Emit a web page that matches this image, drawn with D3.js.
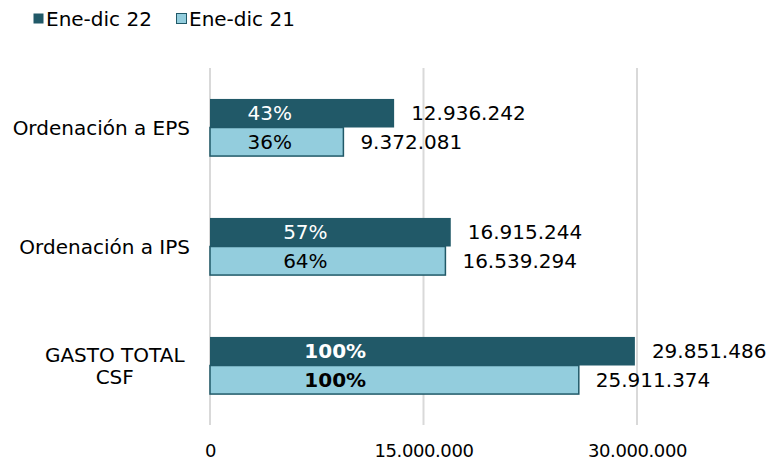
<!DOCTYPE html>
<html>
<head>
<meta charset="utf-8">
<script src="https://cdn.jsdelivr.net/npm/d3@7"></script>
<style>
  body { margin: 0; background: #fff; }
  svg { display: block; font-family: "DejaVu Sans", Verdana, sans-serif; }
</style>
</head>
<body>
<div id="vue"></div>
<script>
var width = 772;
var height = 461;

// donnees
var categories = ["Ordenación a EPS", "Ordenación a IPS", "GASTO TOTAL CSF"];
var seriesNames = ["Ene-dic 22", "Ene-dic 21"];
var values22 = [12936242, 16915244, 29851486];
var values21 = [9372081, 16539294, 25911374];
var pct22 = ["43%", "57%", "100%"];
var pct21 = ["36%", "64%", "100%"];
var tickValues = [0, 15000000, 30000000];

var colors = ["#215968", "#93CDDD"];

var locale = d3.formatLocale({ decimal: ",", thousands: ".", grouping: [3], currency: ["", ""] });
var fmt = locale.format(",d");

var svg = d3.select("#vue").append("svg")
  .attr("width", width)
  .attr("height", height);

var x = d3.scaleLinear().domain([0, 30000000]).range([210, 637]);
var y = d3.scaleBand().domain(categories).range([68, 425]).paddingInner(0.52).paddingOuter(0.26);
var y1 = d3.scaleBand().domain(seriesNames).range([0, y.bandwidth()]);

// grille verticale
svg.append("g").selectAll("line")
  .data(tickValues)
  .enter().append("line")
  .attr("x1", function (d) { return x(d); })
  .attr("x2", function (d) { return x(d); })
  .attr("y1", 68)
  .attr("y2", 425)
  .attr("stroke", "#D9D9D9")
  .attr("stroke-width", 2);

// axe x (etiquettes seulement)
var xAxis = d3.axisBottom(x).tickValues(tickValues).tickSize(0).tickPadding(0)
  .tickFormat(function (d) { return fmt(d); });
var gx = svg.append("g").attr("transform", "translate(0,451)").call(xAxis);
gx.select(".domain").remove();
gx.selectAll("text")
  .attr("font-size", "18px")
  .attr("font-family", "DejaVu Sans, Verdana, sans-serif")
  .attr("fill", "#000")
  .attr("letter-spacing", "-0.4px")
  .attr("dy", "0.36em")
  .attr("y", 0);

// barres
var rows = categories.map(function (c, i) {
  return { cat: c, v: [values22[i], values21[i]], p: [pct22[i], pct21[i]] };
});

var groups = svg.append("g").selectAll("g")
  .data(rows)
  .enter().append("g")
  .attr("transform", function (d) { return "translate(0," + y(d.cat) + ")"; });

groups.selectAll("rect")
  .data(function (d) { return d.v.map(function (v, j) { return { s: seriesNames[j], v: v, j: j }; }); })
  .enter().append("rect")
  .attr("x", x(0))
  .attr("y", function (d) { return y1(d.s); })
  .attr("width", function (d) { return x(d.v) - x(0); })
  .attr("height", y1.bandwidth())
  .attr("fill", function (d) { return colors[d.j]; })
  .attr("stroke", function (d) { return d.j === 1 ? "#215968" : "none"; })
  .attr("stroke-width", 1.5);

// valeurs
groups.selectAll("text.val")
  .data(function (d) { return d.v.map(function (v, j) { return { s: seriesNames[j], v: v }; }); })
  .enter().append("text")
  .attr("class", "val")
  .attr("x", function (d) { return x(d.v) + 17; })
  .attr("y", function (d) { return y1(d.s) + y1.bandwidth() / 2; })
  .attr("dy", "0.36em")
  .attr("font-size", "20px")
  .attr("fill", "#000")
  .text(function (d) { return fmt(d.v); });

// pourcentages (placés comme dans l'original)
var pctAt = [4200000, 6700000, 8800000];
groups.selectAll("text.pct")
  .data(function (d, i) { return d.p.map(function (p, j) { return { s: seriesNames[j], p: p, j: j, i: i }; }); })
  .enter().append("text")
  .attr("class", "pct")
  .attr("x", function (d) { return x(pctAt[d.i]); })
  .attr("y", function (d) { return y1(d.s) + y1.bandwidth() / 2; })
  .attr("dy", "0.36em")
  .attr("text-anchor", "middle")
  .attr("font-size", "20px")
  .attr("font-weight", function (d) { return d.i === 2 ? "bold" : "normal"; })
  .attr("fill", function (d) { return d.j === 0 ? "#fff" : "#000"; })
  .text(function (d) { return d.p; });

// etiquettes des categories
var wrapped = { "GASTO TOTAL CSF": ["GASTO TOTAL", "CSF"] };
categories.forEach(function (c) {
  var cy = y(c) + y.bandwidth() / 2;
  if (wrapped[c]) {
    var lines = wrapped[c];
    var t = svg.append("text")
      .attr("font-size", "20px")
      .attr("text-anchor", "middle")
      .attr("fill", "#000");
    lines.forEach(function (l, k) {
      t.append("tspan")
        .attr("x", 0)
        .attr("y", cy + (k - (lines.length - 1) / 2) * 22)
        .attr("dy", "0.36em")
        .text(l);
    });
    var w = t.node().getBBox().width;
    t.selectAll("tspan").attr("x", 185 - w / 2);
  } else {
    svg.append("text")
      .attr("x", 190)
      .attr("y", cy)
      .attr("dy", "0.36em")
      .attr("text-anchor", "end")
      .attr("font-size", "20px")
      .attr("fill", "#000")
      .text(c);
  }
});

// legende
var legend = svg.append("g").selectAll("g")
  .data(seriesNames)
  .enter().append("g")
  .attr("transform", function (d, i) { return "translate(" + (33 + i * 143) + ",0)"; });

legend.append("rect")
  .attr("x", 0.5)
  .attr("y", 13.5)
  .attr("width", 10)
  .attr("height", 10)
  .attr("fill", function (d, i) { return colors[i]; })
  .attr("stroke", function (d, i) { return i === 1 ? "#215968" : "none"; })
  .attr("stroke-width", 1);

legend.append("text")
  .attr("x", 13)
  .attr("y", 19)
  .attr("dy", "0.36em")
  .attr("font-size", "20px")
  .attr("fill", "#000")
  .text(function (d) { return d; });
</script>
</body>
</html>
